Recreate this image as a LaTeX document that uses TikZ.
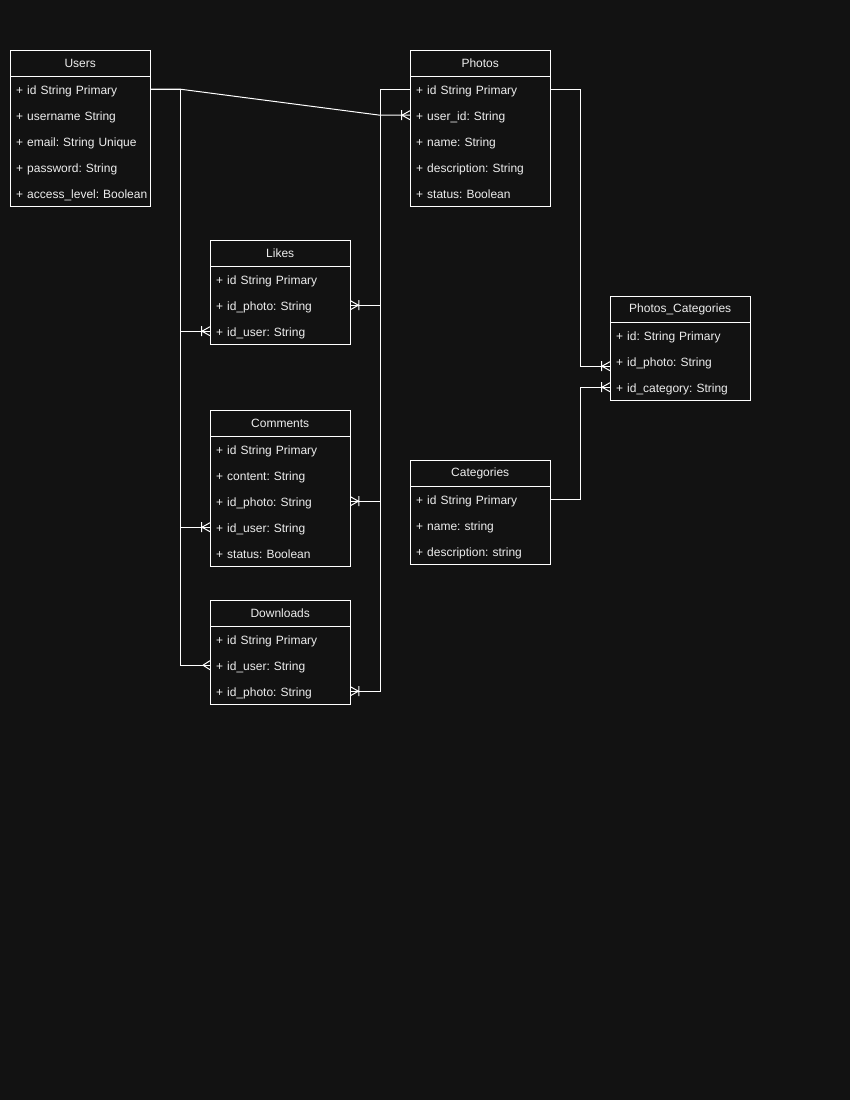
\documentclass[tikz,border=0pt]{standalone}
\usepackage{fontspec}
\setmainfont{Liberation Sans}
\usetikzlibrary{calc}
\definecolor{bg}{HTML}{121212}
\definecolor{txt}{HTML}{EEEEEE}
\tikzset{
  ln/.style={draw=white, line width=1pt},
  hdr/.style={anchor=north west, minimum width=140pt, minimum height=26pt, inner sep=0pt, text=txt, font=\fontsize{12pt}{14pt}\selectfont\frenchspacing},
  rowtext/.style={anchor=north west, minimum height=26pt, text width=128pt, text height=10pt, text depth=0pt, inner xsep=6pt, inner ysep=0pt, align=left, text=txt, font=\fontsize{12pt}{14pt}\selectfont\frenchspacing},
  onemany/.pic={\draw[ln] (-8,0)--(0,-4.5) (-8,0)--(0,4.5) (-8.5,-5)--(-8.5,5);},
  manyonly/.pic={\draw[ln] (-7,0)--(0,-4.5) (-7,0)--(0,4.5);}
}
\newcommand\erbox[6]{%
  \node[hdr] (#1) at (#2,#3) {#4};
  \foreach \t [count=\i] in {#6} {\node[rowtext] (#1-\i) at (#2,{#3+26*\i}) {\mbox{\t}};}
  \draw[ln] (#1.north west) rectangle (#1-#5.south east);
  \draw[ln] (#1.south west) -- (#1.south east);
}
\begin{document}
\begin{tikzpicture}[x=1pt,y=-1pt]
\path[fill=bg] (0,0) rectangle (850,1100);
\useasboundingbox (0,0) rectangle (850,1100);

\erbox{users}{10}{50}{Users}{5}{+ id String Primary,+ username String,+ email: String Unique,+ password: String,+ access\_level: Boolean}
\erbox{photos}{410}{50}{Photos}{5}{+ id String Primary,+ user\_id: String,+ name: String,+ description: String,+ status: Boolean}
\erbox{likes}{210}{240}{Likes}{3}{+ id String Primary,+ id\_photo: String,+ id\_user: String}
\erbox{comments}{210}{410}{Comments}{5}{+ id String Primary,+ content: String,+ id\_photo: String,+ id\_user: String,+ status: Boolean}
\erbox{downloads}{210}{600}{Downloads}{3}{+ id String Primary,+ id\_user: String,+ id\_photo: String}
\erbox{cats}{410}{460}{Categories}{3}{+ id String Primary,+ name: string,+ description: string}
\erbox{pc}{610}{296}{Photos\_Categories}{3}{+ id: String Primary,+ id\_photo: String,+ id\_category: String}

% Users connectors
\draw[ln] (users-1.east) -- ++(30,0) -- ($(photos-2.west)+(-30,0)$) -- (photos-2.west);
\draw[ln] (users-1.east) -- ++(30,0) |- (likes-3.west);
\draw[ln] (users-1.east) -- ++(30,0) |- (comments-4.west);
\draw[ln] (users-1.east) -- ++(30,0) |- (downloads-2.west);
\pic at (photos-2.west) {onemany};
\pic at (likes-3.west) {onemany};
\pic at (comments-4.west) {onemany};
\pic at (downloads-2.west) {manyonly};

% Photos connectors
\draw[ln] (photos-1.west) -- ++(-30,0) |- (likes-2.east);
\draw[ln] (photos-1.west) -- ++(-30,0) |- (comments-3.east);
\draw[ln] (photos-1.west) -- ++(-30,0) |- (downloads-3.east);
\pic[xscale=-1] at (likes-2.east) {onemany};
\pic[xscale=-1] at (comments-3.east) {onemany};
\pic[xscale=-1] at (downloads-3.east) {onemany};

\coordinate (pcin) at ($(pc-2.west)+(0,5)$);
\draw[ln] (photos-1.east) -- ++(30,0) |- (pcin);
\pic at (pcin) {onemany};
\draw[ln] (cats-1.east) -- ++(30,0) |- (pc-3.west);
\pic at (pc-3.west) {onemany};
\end{tikzpicture}
\end{document}
